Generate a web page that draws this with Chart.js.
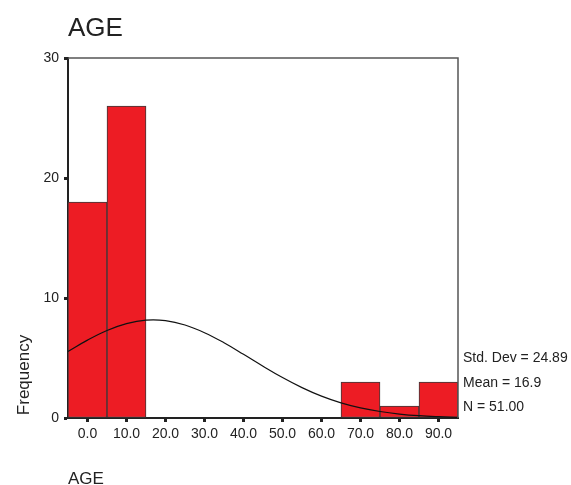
<!DOCTYPE html>
<html>
<head>
<meta charset="utf-8">
<script src="https://cdn.jsdelivr.net/npm/chart.js@4.4.1/dist/chart.umd.min.js"></script>
<style>
  html, body { margin: 0; padding: 0; background: #fff; }
  #wrap { width: 571px; height: 485px; position: relative; }
</style>
</head>
<body>
<div id="wrap"><canvas id="c" width="571" height="485"></canvas></div>
<script>
// ---- data ----
const binCenters = [0, 10, 20, 30, 40, 50, 60, 70, 80, 90];
const frequencies = [18, 26, 0, 0, 0, 0, 0, 3, 1, 3];
const xTickValues = [0, 10, 20, 30, 40, 50, 60, 70, 80, 90];
const yTickValues = [0, 10, 20, 30];
const curveX = [-5, 0, 5, 10, 15, 20, 25, 30, 35, 40, 45, 50, 55, 60, 65, 70, 75, 80, 85, 90, 95];
const curveY = [5.55, 6.49, 7.29, 7.86, 8.15, 8.11, 7.75, 7.11, 6.27, 5.31, 4.32, 3.37, 2.53, 1.82, 1.26, 0.84, 0.54, 0.33, 0.19, 0.11, 0.06];
const chartTitle = 'AGE';
const xAxisTitle = 'AGE';
const yAxisTitle = 'Frequency';
const statsLines = ['Std. Dev = 24.89', 'Mean = 16.9', 'N = 51.00'];

const FONT = "'Liberation Sans', Arial, Helvetica, sans-serif";
Chart.defaults.font.family = FONT;
Chart.defaults.color = '#222';

const textPlugin = {
  id: 'texts',
  afterDraw(chart) {
    const ctx = chart.ctx;
    const a = chart.chartArea;
    ctx.save();
    // frame top/right
    ctx.strokeStyle = '#555';
    ctx.lineWidth = 1.5;
    ctx.beginPath();
    ctx.moveTo(a.left, a.top);
    ctx.lineTo(a.right, a.top);
    ctx.lineTo(a.right, a.bottom);
    ctx.stroke();
    ctx.fillStyle = '#222';
    // title
    ctx.font = '26px ' + FONT;
    ctx.textAlign = 'left';
    ctx.textBaseline = 'alphabetic';
    ctx.fillText(chartTitle, a.left, 36);
    // x axis title
    ctx.font = '17px ' + FONT;
    ctx.fillText(xAxisTitle, a.left, 484);
    // y title
    ctx.save();
    ctx.translate(29, 375);
    ctx.rotate(-Math.PI / 2);
    ctx.textAlign = 'center';
    ctx.textBaseline = 'alphabetic';
    ctx.font = '17px ' + FONT;
    ctx.fillText(yAxisTitle, 0, 0);
    ctx.restore();
    // stats
    ctx.font = '14px ' + FONT;
    ctx.textBaseline = 'middle';
    const ys = [358, 383, 407];
    statsLines.forEach((t, i) => ctx.fillText(t, a.right + 5, ys[i]));
    ctx.restore();
  }
};

new Chart(document.getElementById('c'), {
  data: {
    datasets: [
      {
        type: 'line',
        data: curveX.map((x, i) => ({ x: x, y: curveY[i] })),
        borderColor: '#111',
        borderWidth: 1.2,
        pointRadius: 0,
        tension: 0.4,
        fill: false,
        order: 0
      },
      {
        type: 'bar',
        data: binCenters.map((x, i) => ({ x: x, y: frequencies[i] })),
        backgroundColor: '#ED1C24',
        borderColor: '#3a3a3a',
        borderWidth: 1,
        borderSkipped: false,
        barPercentage: 1,
        categoryPercentage: 1,
        order: 1
      }
    ]
  },
  options: {
    responsive: false,
    devicePixelRatio: 1,
    animation: false,
    layout: { padding: { top: 58, right: 113, left: 0, bottom: 0 } },
    plugins: { legend: { display: false }, tooltip: { enabled: false }, title: { display: false } },
    scales: {
      x: {
        type: 'linear',
        min: -5,
        max: 95,
        offset: false,
        afterFit(s) { s.height = 67; },
        afterBuildTicks(s) { s.ticks = xTickValues.map(v => ({ value: v })); },
        ticks: {
          font: { size: 14 },
          color: '#222',
          autoSkip: false,
          maxRotation: 0,
          padding: 4,
          callback: v => Number(v).toFixed(1)
        },
        grid: { display: true, drawOnChartArea: false, drawTicks: true, tickLength: 4, tickWidth: 3, tickColor: '#222', offset: false },
        border: { display: true, color: '#222', width: 2 }
      },
      y: {
        type: 'linear',
        min: 0,
        max: 30,
        afterFit(s) { s.width = 68; },
        afterBuildTicks(s) { s.ticks = yTickValues.map(v => ({ value: v })); },
        ticks: { font: { size: 14 }, color: '#222', padding: 5 },
        grid: { display: true, drawOnChartArea: false, drawTicks: true, tickLength: 4, tickWidth: 3, tickColor: '#222' },
        border: { display: true, color: '#222', width: 2 }
      }
    }
  },
  plugins: [textPlugin]
});
</script>
</body>
</html>
